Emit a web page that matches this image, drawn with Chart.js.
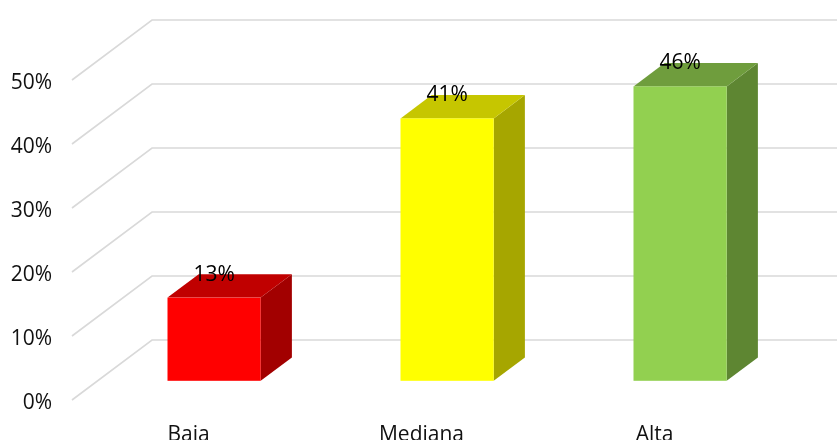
<!DOCTYPE html>
<html>
<head>
<meta charset="utf-8">
<script src="https://cdn.jsdelivr.net/npm/chart.js@4.4.1/dist/chart.umd.min.js"></script>
<style>
  body { margin: 0; background: #fff; }
  canvas { display: block; }
</style>
</head>
<body>
<canvas id="chart" width="837" height="440"></canvas>
<script>
// data
const categories = ["Baja", "Mediana", "Alta"];
const values = [13, 41, 46];
const yTicks = [0, 10, 20, 30, 40, 50];

// colours per bar: front, top, side
const frontColors = ["#ff0000", "#ffff00", "#92d050"];
const topColors = ["#c00000", "#c6c600", "#6f9d3d"];
const sideColors = ["#a20000", "#a6a600", "#5e8632"];

// 3d look: full floor depth goes 80px right, 60px up
const DEPTH_X = 80;
const DEPTH_Y = -60;
const BAR_FRONT = 0.32; // where the bar front sits in the depth
const BAR_DEPTH = 0.39; // how deep the box is

// back wall + side wall gridlines, and the % labels
const wallPlugin = {
    id: "wall",
    beforeDatasetsDraw(chart) {
        const ctx = chart.ctx;
        const y = chart.scales.y;
        const left = chart.chartArea.left;
        ctx.save();
        ctx.strokeStyle = "#d9d9d9";
        ctx.lineWidth = 1.6;
        ctx.fillStyle = "#111";
        ctx.font = '21px "Open Sans", sans-serif';
        ctx.textAlign = "right";
        ctx.textBaseline = "middle";
        yTicks.forEach(t => {
            const py = y.getPixelForValue(t);
            ctx.beginPath();
            ctx.moveTo(left, py);
            ctx.lineTo(left + DEPTH_X, py + DEPTH_Y);
            ctx.lineTo(chart.width, py + DEPTH_Y);
            ctx.stroke();
            // tick label sits a bit under the line end
            ctx.fillText(t + "%", left - 20, py + 3);
        });
        ctx.restore();
    }
};

// draw the boxes from the (invisible) bar elements
const boxPlugin = {
    id: "boxes",
    afterDatasetsDraw(chart) {
        const ctx = chart.ctx;
        const y = chart.scales.y;
        const meta = chart.getDatasetMeta(0);
        const fx = DEPTH_X * BAR_FRONT, fy = DEPTH_Y * BAR_FRONT;
        const dx = DEPTH_X * BAR_DEPTH, dy = DEPTH_Y * BAR_DEPTH;
        ctx.save();
        meta.data.forEach((bar, i) => {
            const w = bar.width;
            const x0 = bar.x - w / 2 + fx;
            const x1 = bar.x + w / 2 + fx;
            const yTop = y.getPixelForValue(values[i]) + fy;
            const yBot = y.getPixelForValue(0) + fy;

            // side
            ctx.fillStyle = sideColors[i];
            ctx.beginPath();
            ctx.moveTo(x1, yTop);
            ctx.lineTo(x1 + dx, yTop + dy);
            ctx.lineTo(x1 + dx, yBot + dy);
            ctx.lineTo(x1, yBot);
            ctx.closePath();
            ctx.fill();

            // top
            ctx.fillStyle = topColors[i];
            ctx.beginPath();
            ctx.moveTo(x0, yTop);
            ctx.lineTo(x0 + dx, yTop + dy);
            ctx.lineTo(x1 + dx, yTop + dy);
            ctx.lineTo(x1, yTop);
            ctx.closePath();
            ctx.fill();

            // front
            ctx.fillStyle = frontColors[i];
            ctx.fillRect(x0, yTop, x1 - x0, yBot - yTop);

            // value label
            ctx.fillStyle = "#000";
            ctx.font = '21px "Open Sans", sans-serif';
            ctx.textAlign = "center";
            ctx.textBaseline = "middle";
            ctx.fillText(values[i] + "%", (x0 + x1) / 2, yTop - 23);
        });
        ctx.restore();
    }
};

Chart.defaults.font.family = '"Open Sans", sans-serif';
Chart.defaults.font.size = 21;
Chart.defaults.color = "#111";

new Chart(document.getElementById("chart"), {
    type: "bar",
    data: {
        labels: categories,
        datasets: [{
            data: values,
            backgroundColor: "rgba(0,0,0,0)",
            barPercentage: 0.4,
            categoryPercentage: 1
        }]
    },
    options: {
        responsive: false,
        animation: false,
        devicePixelRatio: 1,
        layout: { padding: { top: 80, right: 66, bottom: 0, left: 0 } },
        plugins: {
            legend: { display: false },
            tooltip: { enabled: false }
        },
        scales: {
            x: {
                grid: { display: false },
                border: { display: false },
                ticks: { padding: 14 },
                afterFit: (s) => { s.height = 40; }
            },
            y: {
                min: 0,
                max: 50,
                grid: { display: false, drawTicks: false },
                border: { display: false },
                ticks: { display: false, stepSize: 10 },
                afterFit: (s) => { s.width = 72; }
            }
        }
    },
    plugins: [wallPlugin, boxPlugin]
});
</script>
</body>
</html>
